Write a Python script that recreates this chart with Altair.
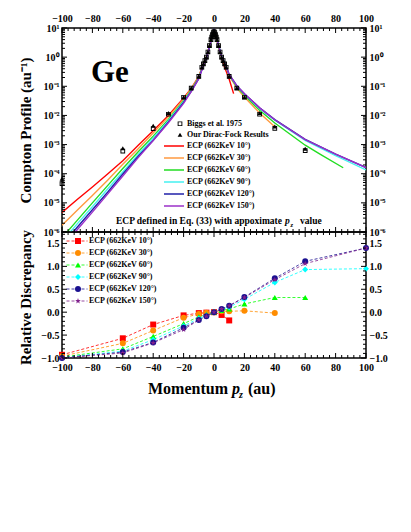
import altair as alt
import pandas as pd

FONT = "Liberation Serif"

SERIES = ["ECP (662KeV 10°)", "ECP (662KeV 30°)", "ECP (662KeV 60°)",
          "ECP (662KeV 90°)", "ECP (662KeV 120°)", "ECP (662KeV 150°)"]
MARKER_KEYS = ["m10", "m30", "m60", "m90", "m120", "m150"]
TOP_COLORS = ["#FF0000", "#FF9A40", "#22DD22", "#44F0F0", "#2020A8", "#9B30C8"]
BOT_COLORS = ["#FF0000", "#FF8C00", "#00FF00", "#00FFFF", "#1A1090", "#80208C"]
STAR = ("M0,-1L0.2245,-0.309L0.951,-0.309L0.3633,0.118L0.5878,0.809L0,0.382"
        "L-0.5878,0.809L-0.3633,0.118L-0.951,-0.309L-0.2245,-0.309Z")
RING = "M-1,-1L1,-1L1,1L-1,1Z M-0.6,-0.6L-0.6,0.6L0.6,0.6L0.6,-0.6Z"
BOT_SHAPES = ["square", "circle", "triangle-up", "diamond", "circle", STAR]

# ---- top panel: ECP curves (Compton profile, au^-1) ----
LEFT_PZ = [-100, -90, -80, -70, -60, -50, -40, -30, -20, -15, -10, -7, -5, -3, -1, 0]
ECP10_PZ = LEFT_PZ + [1, 3, 5, 7, 10, 12.9]
ECP10_J = [4.7e-6, 1.3e-5, 3.5e-5, 9.8e-5, 2.8e-4, 9.3e-4, 3.0e-3, 1.0e-2, 4.0e-2, 8.5e-2,
           0.22, 0.58, 0.99, 2.4, 5.6, 8.5, 5.6, 2.35, 0.94, 0.45, 0.174, 0.056]
ECP30_PZ = LEFT_PZ + [1, 3, 5, 7, 10, 15, 20, 30, 40]
ECP30_J = [1.7e-6, 5.6e-6, 1.8e-5, 6.0e-5, 2.1e-4, 7.1e-4, 2.5e-3, 8.9e-3, 3.7e-2, 8.1e-2,
           0.21, 0.575, 0.99, 2.4, 5.6, 8.5, 5.6, 2.4, 1.0, 0.59, 0.23, 0.087, 0.043, 0.0122, 4.1e-3]
ECP60_PZ = LEFT_PZ + [1, 3, 5, 7, 10, 15, 20, 30, 40, 60, 70, 85]
ECP60_J = [6.3e-7, 2.5e-6, 1.0e-5, 3.9e-5, 1.5e-4, 5.6e-4, 1.95e-3, 7.3e-3, 3.2e-2, 7.4e-2,
           0.20, 0.55, 0.95, 2.35, 5.6, 8.5, 5.7, 2.45, 1.04, 0.62, 0.24, 0.095, 0.049, 0.015,
           5.5e-3, 9.5e-4, 4.6e-4, 1.6e-4]
ECP90_PZ = LEFT_PZ + [1, 3, 5, 7, 10, 15, 20, 30, 40, 60, 80, 100]
ECP90_J = [4.6e-7, 1.9e-6, 7.4e-6, 3.0e-5, 1.15e-4, 4.5e-4, 1.66e-3, 6.6e-3, 3.0e-2, 6.9e-2,
           0.19, 0.53, 0.93, 2.3, 5.55, 8.5, 5.75, 2.5, 1.06, 0.635, 0.248, 0.101, 0.053, 0.0175,
           6.9e-3, 1.4e-3, 4.2e-4, 1.35e-4]
ECP120_PZ = ECP90_PZ
ECP120_J = [3.4e-7, 1.45e-6, 5.8e-6, 2.3e-5, 9.8e-5, 3.9e-4, 1.41e-3, 6.0e-3, 2.8e-2, 6.7e-2,
            0.186, 0.52, 0.91, 2.26, 5.5, 8.5, 5.8, 2.52, 1.07, 0.645, 0.255, 0.105, 0.0555,
            0.0184, 7.2e-3, 1.5e-3, 4.7e-4, 1.62e-4]
ECP150_PZ = ECP90_PZ
ECP150_J = [2.75e-7, 1.2e-6, 4.8e-6, 2.0e-5, 8.3e-5, 3.5e-4, 1.38e-3, 5.6e-3, 2.6e-2, 6.5e-2,
            0.182, 0.51, 0.91, 2.24, 5.5, 8.5, 5.8, 2.52, 1.07, 0.645, 0.255, 0.104, 0.055,
            0.0182, 7.1e-3, 1.48e-3, 4.7e-4, 1.62e-4]

# reference points
REF_PZ = [-100, -60, -40, -30, -20, -15, -10, -8, -7, -6, -5, -4, -3, -2, -1.5, -1, -0.5, 0,
          0.5, 1, 1.5, 2, 3, 4, 5, 6, 7, 8, 10, 15, 20, 30, 40, 60]
DF_J = [6.8e-5, 7.5e-4, 4.4e-3, 1.2e-2, 4.2e-2, 8.7e-2, 0.22, 0.45, 0.59, 0.76, 1.0, 1.5, 2.5,
        4.0, 4.9, 5.9, 7.0, 7.5, 7.0, 5.9, 4.9, 4.0, 2.5, 1.5, 1.0, 0.76, 0.59, 0.45, 0.22,
        8.7e-2, 4.2e-2, 1.2e-2, 4.2e-3, 7.2e-4]
BIGGS_J = [4.6e-5, 6.0e-4, 3.5e-3, 1.1e-2, 4.2e-2, 8.7e-2, 0.22, 0.45, 0.59, 0.76, 1.0, 1.5,
           2.5, 4.0, 4.9, 5.9, 7.0, 7.5, 7.0, 5.9, 4.9, 4.0, 2.5, 1.5, 1.0, 0.76, 0.59, 0.45,
           0.22, 8.7e-2, 4.2e-2, 1.1e-2, 3.6e-3, 6.2e-4]
REF_SOURCES = ["Biggs et al. 1975", "Our Dirac-Fock Results"]

# ---- bottom panel: relative discrepancy ----
RD_PZ = [-100, -60, -40, -20, -10, -5, 0, 5, 10, 20, 40, 60, 100]
RD10 = [-0.93, -0.57, -0.27, -0.07, -0.02, -0.01, 0.0, -0.06, -0.18]
RD30 = [-0.96, -0.68, -0.40, -0.12, -0.04, -0.01, 0.0, 0.02, 0.02, 0.03, -0.02]
RD60 = [-0.98, -0.80, -0.53, -0.25, -0.10, -0.05, 0.0, 0.04, 0.07, 0.18, 0.32, 0.32]
RD90 = [-0.99, -0.85, -0.60, -0.30, -0.14, -0.07, 0.0, 0.06, 0.11, 0.28, 0.65, 0.93, 0.95]
RD120 = [-1.0, -0.87, -0.66, -0.34, -0.17, -0.09, 0.0, 0.07, 0.14, 0.33, 0.74, 1.11, 1.40]
RD150 = [-1.0, -0.89, -0.67, -0.38, -0.17, -0.09, 0.0, 0.07, 0.14, 0.32, 0.71, 1.06, 1.40]

X_MAJ = list(range(-100, 101, 20))
X_MIN = [v for v in range(-100, 101, 4) if v % 20 != 0]
YT_MAJ = [1e-6, 1e-5, 1e-4, 1e-3, 1e-2, 1e-1, 1.0, 10.0]
YT_MIN = [k * 10.0 ** e for e in range(-6, 1) for k in range(2, 10)]
YB_MAJ = [-1.0, -0.5, 0.0, 0.5, 1.0, 1.5]
YB_MIN = [i / 10 for i in range(-10, 18) if i % 5 != 0]

W, H_TOP, H_BOT = 304, 204, 126

# ---- tables ----
curve_rows = []
for name, pzs, js in zip(SERIES, [ECP10_PZ, ECP30_PZ, ECP60_PZ, ECP90_PZ, ECP120_PZ, ECP150_PZ],
                         [ECP10_J, ECP30_J, ECP60_J, ECP90_J, ECP120_J, ECP150_J]):
    for p, j in zip(pzs, js):
        curve_rows.append({"pz": p, "J": j, "series": name})
curves = pd.DataFrame(curve_rows)

ref_rows = []
for src, js in zip(REF_SOURCES, [BIGGS_J, DF_J]):
    for p, j in zip(REF_PZ, js):
        ref_rows.append({"pz": p, "J": j, "src": src})
refs = pd.DataFrame(ref_rows)

rd_rows = []
for name, key, vals in zip(SERIES, MARKER_KEYS, [RD10, RD30, RD60, RD90, RD120, RD150]):
    for p, v in zip(RD_PZ, vals):
        rd_rows.append({"pz": p, "rd": v, "series": name, "mkey": key})
rd = pd.DataFrame(rd_rows)

ONE = pd.DataFrame({"k": [0]})

XS = alt.Scale(domain=[-100, 100], nice=False, zero=False)
YS_TOP = alt.Scale(type="log", domain=[1e-6, 10], nice=False)
YS_BOT = alt.Scale(domain=[-1.0, 1.75], nice=False, zero=False)

SUP = "'10' + ['\u207b\u2076','\u207b\u2075','\u207b\u2074','\u207b\u00b3','\u207b\u00b2','\u207b\u00b9','\u2070','\u00b9'][round(log(datum.value)/LN10) + 6]"


def ticks(ys, ymaj, ymin, h):
    layers = []
    for vals, L in ((X_MAJ, 5), (X_MIN, 3)):
        df = pd.DataFrame({"v": vals})
        for y0, y1 in ((0, L), (h, h - L)):
            layers.append(alt.Chart(df).mark_rule(color="black", strokeWidth=1).encode(
                x=alt.X("v:Q", scale=XS, axis=None), y=alt.value(y0), y2=alt.value(y1)))
    for vals, L in ((ymaj, 5), (ymin, 3)):
        df = pd.DataFrame({"v": vals})
        for x0, x1 in ((0, L), (W, W - L)):
            layers.append(alt.Chart(df).mark_rule(color="black", strokeWidth=1).encode(
                y=alt.Y("v:Q", scale=ys, axis=None), x=alt.value(x0), x2=alt.value(x1)))
    return layers


def txt(text, x, y, size, italic=False, align="left"):
    return alt.Chart(ONE).mark_text(
        text=text, font=FONT, fontSize=size, fontWeight="bold",
        fontStyle="italic" if italic else "normal", align=align,
        baseline="alphabetic", color="black").encode(x=alt.value(x), y=alt.value(y))


# ---- top panel ----
top_lines = alt.Chart(curves).mark_line(strokeWidth=1.4, clip=True).encode(
    x=alt.X("pz:Q", scale=XS, axis=alt.Axis(orient="top", values=X_MAJ, format="d",
                                             labelPadding=5, title=None)),
    y=alt.Y("J:Q", scale=YS_TOP, axis=alt.Axis(orient="left", values=YT_MAJ, labelExpr=SUP,
                                                labelPadding=3, title="Compton Profile (au\u207b\u00b9)",
                                                titleX=-32, titleY=H_TOP / 2, titleAngle=-90,
                                                titleBaseline="alphabetic")),
    color=alt.Color("series:N", scale=alt.Scale(domain=SERIES, range=TOP_COLORS),
                    legend=alt.Legend(orient="none", legendX=101, legendY=112, title=None,
                                      symbolType="stroke", symbolSize=400, symbolStrokeWidth=1.5,
                                      clipHeight=12, rowPadding=0, labelOffset=2, padding=0)),
    order=alt.Order("pz:Q"),
)
top_pts = alt.Chart(refs).mark_point(filled=True, size=22, color="black", opacity=1).encode(
    x=alt.X("pz:Q", scale=XS, axis=None),
    y=alt.Y("J:Q", scale=YS_TOP, axis=alt.Axis(orient="right", values=YT_MAJ, labelExpr=SUP,
                                                labelPadding=3, title=None)),
    shape=alt.Shape("src:N", scale=alt.Scale(domain=REF_SOURCES, range=[RING, "triangle-up"]),
                    legend=alt.Legend(orient="none", legendX=114, legendY=90.5, title=None,
                                      clipHeight=10.5, rowPadding=0, labelOffset=3, padding=0,
                                      symbolSize=22, symbolFillColor="black",
                                      symbolStrokeWidth=0, symbolOpacity=1)),
)
top_text = [
    txt("Ge", 29, 54, 31),
    txt("ECP defined in Eq. (33) with appoximate", 220, 196, 9.5, align="right"),
    txt("p", 223, 196, 9.5, italic=True),
    txt("z", 228.5, 199, 6.5, italic=True),
    txt("value", 238, 196, 9.5),
]
top = alt.layer(top_lines, top_pts, *ticks(YS_TOP, YT_MAJ, YT_MIN, H_TOP), *top_text).properties(
    width=W, height=H_TOP).resolve_axis(x="independent", y="independent")

# ---- bottom panel ----
bot_lines = alt.Chart(rd).mark_line(strokeWidth=1, strokeDash=[3, 2], opacity=0.8).encode(
    x=alt.X("pz:Q", scale=XS, axis=alt.Axis(orient="bottom", values=X_MAJ, format="d",
                                             labelPadding=4, title=None)),
    y=alt.Y("rd:Q", scale=YS_BOT, axis=alt.Axis(orient="left", values=YB_MAJ, format=".1f",
                                                 labelPadding=3, title="Relative Discrepancy",
                                                 titleX=-32, titleY=65, titleAngle=-90,
                                                 titleBaseline="alphabetic")),
    color=alt.Color("series:N", scale=alt.Scale(domain=SERIES, range=BOT_COLORS),
                    legend=alt.Legend(orient="none", legendX=4, legendY=3, title=None,
                                      symbolType="stroke", symbolSize=441, symbolStrokeWidth=1,
                                      symbolDash=[3, 2], clipHeight=12, rowPadding=0,
                                      labelOffset=1, padding=0)),
    order=alt.Order("pz:Q"),
)
mk_legend = alt.Legend(orient="none", legendX=12, legendY=3, title=None, symbolSize=36,
                       clipHeight=12, rowPadding=0, labelExpr="''", padding=0, symbolOpacity=1)
bot_pts = alt.Chart(rd).mark_point(filled=True, size=36, opacity=1).encode(
    x=alt.X("pz:Q", scale=XS, axis=None),
    y=alt.Y("rd:Q", scale=YS_BOT, axis=alt.Axis(orient="right", values=YB_MAJ, format=".1f",
                                                 labelPadding=3, title=None)),
    fill=alt.Fill("mkey:N", scale=alt.Scale(domain=MARKER_KEYS, range=BOT_COLORS), legend=mk_legend),
    shape=alt.Shape("mkey:N", scale=alt.Scale(domain=MARKER_KEYS, range=BOT_SHAPES), legend=mk_legend),
)
bot_text = [
    txt("Momentum", 166, 162, 16, align="right"),
    txt("p", 170, 162, 16, italic=True),
    txt("z", 177, 166, 10, italic=True),
    txt("(au)", 186, 162, 16),
]
bottom = alt.layer(bot_lines, bot_pts, *ticks(YS_BOT, YB_MAJ, YB_MIN, H_BOT), *bot_text).properties(
    width=W, height=H_BOT).resolve_axis(x="independent", y="independent")

chart = alt.vconcat(top, bottom, spacing=0, bounds="flush").resolve_scale(
    color="independent", fill="independent", shape="independent"
).resolve_legend(
    color="independent", fill="independent", shape="independent"
).properties(
    padding={"left": 9, "top": 4, "right": 5, "bottom": 5}
).configure_view(stroke="black", strokeWidth=1.5).configure_axis(
    grid=False, ticks=False, domain=False, tickSize=0, labelFlush=False,
    labelFont=FONT, labelFontSize=10, labelFontWeight="bold", labelColor="black",
    titleFont=FONT, titleFontSize=15, titleFontWeight="bold", titleColor="black",
).configure_legend(
    labelFont=FONT, labelFontSize=8, labelFontWeight="bold", labelColor="black",
)

chart.save("out.html", embed_options={"renderer": "svg", "actions": False})
